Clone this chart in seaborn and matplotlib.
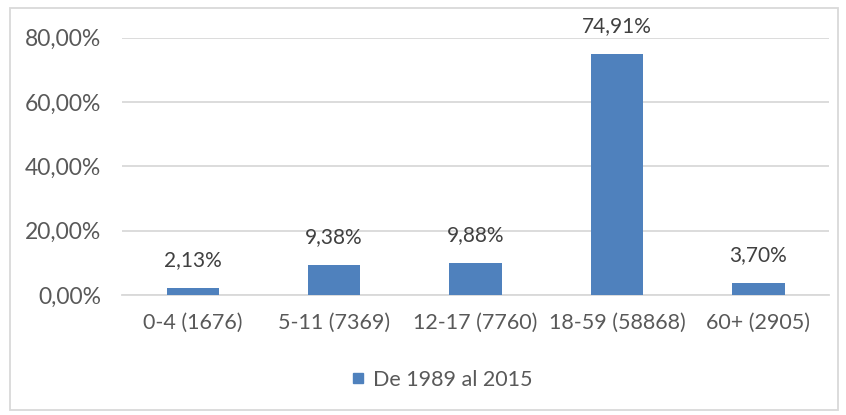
import seaborn as sns
import matplotlib.pyplot as plt
from matplotlib.patches import Rectangle
from matplotlib.lines import Line2D

# Data
categories = ["0-4 (1676)", "5-11 (7369)", "12-17 (7760)", "18-59 (58868)", "60+ (2905)"]
values = [2.13, 9.38, 9.88, 74.91, 3.70]
series_name = "De 1989 al 2015"
yticks = [0, 20, 40, 60, 80]

bar_color = "#4F81BD"
grid_color = "#D9D9D9"
text_color = "#595959"

sns.set_style("white")
plt.rcParams["font.family"] = ["Lato", "DejaVu Sans"]

fig = plt.figure(figsize=(8.46, 4.15), dpi=100)
ax = fig.add_axes([0.1442, 0.2892, 0.8358, 0.62])

sns.barplot(x=categories, y=values, color=bar_color, width=0.37, ax=ax,
            saturation=1, edgecolor="none", zorder=3)

ax.set_ylim(0, 80)
ax.set_xlim(-0.5, len(categories) - 0.5)
ax.set_yticks(yticks)
ax.set_yticklabels([f"{v:.2f}".replace(".", ",") + "%" for v in yticks])
ax.yaxis.grid(True, color=grid_color, linewidth=1.3, zorder=0)
ax.set_axisbelow(True)

for s in ["top", "right", "left"]:
    ax.spines[s].set_visible(False)
ax.spines["bottom"].set_color(grid_color)
ax.spines["bottom"].set_linewidth(1.3)

ax.tick_params(axis="y", length=0, pad=15, labelsize=16.5, labelcolor=text_color)
ax.tick_params(axis="x", which="major", length=0, pad=13, labelsize=15.5, labelcolor=text_color)
ax.set_xticks([i - 0.5 for i in range(len(categories) + 1)], minor=True)
ax.tick_params(axis="x", which="minor", length=5, width=1.3, color=grid_color)
ax.set_xlabel("")
ax.set_ylabel("")

# data labels
for i, v in enumerate(values):
    ax.annotate(f"{v:.2f}".replace(".", ",") + "%", (i, v), xytext=(0, 20),
                textcoords="offset points", ha="center", va="center",
                fontsize=15, color="#404040", annotation_clip=False)

# legend
handle = Line2D([], [], marker="s", linestyle="none", markersize=7,
                markerfacecolor=bar_color, markeredgecolor=bar_color)
fig.legend([handle], [series_name], loc="center", bbox_to_anchor=(0.52, 0.085),
           frameon=False, fontsize=15.5, labelcolor=text_color,
           handletextpad=0.2, handlelength=1.0)

# chart border
fig.patches.append(Rectangle((10 / 846, 5 / 415), 828 / 846, 402 / 415,
                             transform=fig.transFigure, fill=False,
                             edgecolor=grid_color, linewidth=1.3))

fig.savefig("out.png", dpi=100)
